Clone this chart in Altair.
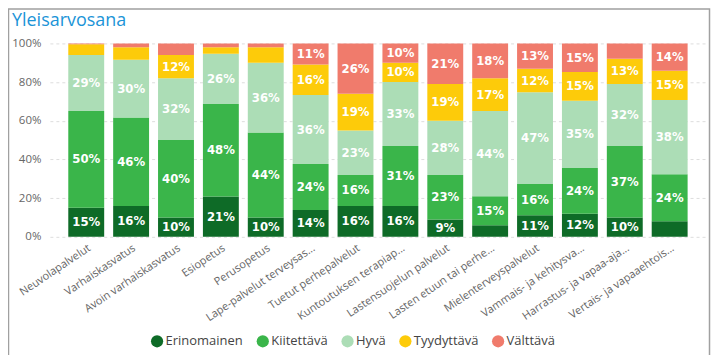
import altair as alt
import pandas as pd

categories = [
    "Neuvolapalvelut", "Varhaiskasvatus", "Avoin varhaiskasvatus", "Esiopetus",
    "Perusopetus", "Lape-palvelut terveysas...", "Tuetut perhepalvelut",
    "Kuntoutuksen terapiap...", "Lastensuojelun palvelut", "Lasten etuun tai perhe...",
    "Mielenterveyspalvelut", "Vammais- ja kehitysva...", "Harrastus- ja vapaa-aja...",
    "Vertais- ja vapaaehtois...",
]
grades = ["Erinomainen", "Kiitettävä", "Hyvä", "Tyydyttävä", "Välttävä"]
colors = ["#0E6B27", "#3AB54A", "#ACDDB6", "#FDCB0A", "#F07B6C"]

erinomainen = [15, 16, 10, 21, 10, 14, 16, 16, 9, 6, 11, 12, 10, 8]
kiitettava  = [50, 46, 40, 48, 44, 24, 16, 31, 23, 15, 16, 24, 37, 24]
hyva        = [29, 30, 32, 26, 36, 36, 23, 33, 28, 44, 47, 35, 32, 38]
tyydyttava  = [5.5, 6.5, 12, 3.4, 8, 16, 19, 10, 19, 17, 12, 15, 13, 15]
valttava    = [0.5, 2, 6, 2, 2, 11, 26, 10, 21, 18, 13, 15, 8, 14]

y_ticks = [0, 0.2, 0.4, 0.6, 0.8, 1.0]
title_text = "Yleisarvosana"

series = [erinomainen, kiitettava, hyva, tyydyttava, valttava]
rows = []
for gi, (g, vals) in enumerate(zip(grades, series)):
    for c, v in zip(categories, vals):
        rows.append({"category": c, "grade": g, "order": gi, "value": v})
df = pd.DataFrame(rows)

base = alt.Chart(df).transform_joinaggregate(
    total="sum(value)", groupby=["category"]
).transform_calculate(
    pct="datum.value / datum.total"
).transform_window(
    cum="sum(pct)", groupby=["category"], sort=[alt.SortField("order")], frame=[None, 0]
).transform_calculate(
    start="datum.cum - datum.pct",
    mid="datum.cum - datum.pct / 2",
    label="round(datum.pct * 100) + '%'",
)

xaxis = alt.Axis(labelAngle=-34, labelFontSize=11, labelColor="#666666",
                 labelFont="Open Sans", domain=False, ticks=False, labelPadding=5,
                 labelLimit=200)
yaxis = alt.Axis(values=y_ticks, format=".0%", tickCount=6,
                 labelFontSize=11.5, labelColor="#666666", labelFont="Open Sans",
                 labelOverlap=False, labelFlush=False,
                 domain=False, ticks=False, labelPadding=9,
                 gridColor="#dddddd", gridDash=[3, 3])
yscale = alt.Scale(domain=[0, 1], nice=False)
xscale = alt.Scale(paddingInner=0.2, paddingOuter=0.41)

bars = base.mark_bar().encode(
    x=alt.X("category:N", sort=categories, title=None, scale=xscale, axis=xaxis),
    y=alt.Y("start:Q", title=None, scale=yscale, axis=yaxis),
    y2="cum:Q",
    color=alt.Color("grade:N", sort=grades,
                    scale=alt.Scale(domain=grades, range=colors),
                    legend=alt.Legend(title=None, orient="none", direction="horizontal",
                                      legendX=101, legendY=292, symbolType="circle",
                                      symbolSize=150, symbolStrokeWidth=0,
                                      labelFontSize=13, labelColor="#444444",
                                      labelFont="Open Sans", labelOffset=2,
                                      columnPadding=13)),
)

texts = base.transform_filter("round(datum.pct * 100) >= 9").mark_text(
    color="white", font="DejaVu Sans Condensed", fontWeight="bold", fontSize=13,
    baseline="middle",
).encode(
    x=alt.X("category:N", sort=categories, title=None, scale=xscale, axis=xaxis),
    y=alt.Y("mid:Q", title=None, scale=yscale, axis=yaxis),
    text="label:N",
)

title = alt.Chart(pd.DataFrame({"t": [title_text]})).mark_text(
    align="left", baseline="alphabetic", fontSize=18, font="Open Sans",
    color="#1B94D7",
).encode(x=alt.value(-38), y=alt.value(-17), text="t:N")

frame = alt.Chart(pd.DataFrame({"a": [0]})).mark_rect(
    fill=None, stroke="#a0a0a0", strokeWidth=1.5
).encode(
    x=alt.value(-41.5), x2=alt.value(661.5), y=alt.value(-34.5), y2=alt.value(400)
)

chart = alt.layer(bars, texts, title, frame).properties(
    width=658, height=194,
    autosize=alt.AutoSizeParams(type="none"),
    padding={"left": 42, "top": 35, "right": 5, "bottom": 118},
).configure_view(stroke=None)

chart.save("out.html", embed_options={"renderer": "svg", "actions": False})
